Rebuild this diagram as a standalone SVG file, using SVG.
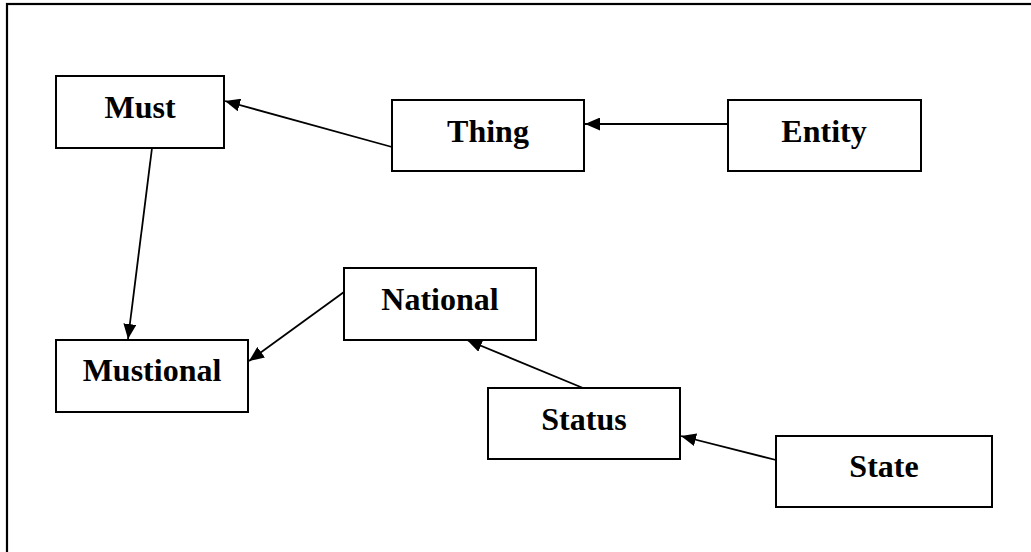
<svg xmlns="http://www.w3.org/2000/svg" width="1031" height="552" viewBox="0 0 1031 552">
<defs>
<style>
.box{fill:#fff;stroke:#000;stroke-width:2}
.lbl{font-family:"Liberation Serif","Times New Roman",serif;font-weight:bold;font-size:32px;fill:#000;text-anchor:middle}
.edge{stroke:#000;stroke-width:1.8;fill:none;marker-end:url(#ah)}
</style>
<marker id="ah" viewBox="0 0 15 13" refX="15" refY="6.5" markerWidth="15" markerHeight="13" markerUnits="userSpaceOnUse" orient="auto">
<path d="M0,0 L15,6.5 L0,13 z" fill="#000"/>
</marker>
</defs>
<rect x="0" y="0" width="1031" height="552" fill="#fff"/>
<rect x="7" y="4" width="1040" height="560" fill="none" stroke="#000" stroke-width="2.2"/>
<g id="connectors">
<line class="edge" x1="392" y1="147" x2="225" y2="101"/>
<line class="edge" x1="727" y1="124" x2="585" y2="124"/>
<line class="edge" x1="152" y1="148" x2="128" y2="339"/>
<line class="edge" x1="344" y1="292" x2="249" y2="361"/>
<line class="edge" x1="583" y1="388" x2="467" y2="340"/>
<line class="edge" x1="776" y1="460" x2="681" y2="436"/>
</g>
<g id="must"><rect class="box" x="56" y="76" width="168" height="72"/><text class="lbl" x="140" y="118">Must</text></g>
<g id="thing"><rect class="box" x="392" y="100" width="192" height="71"/><text class="lbl" x="488" y="142">Thing</text></g>
<g id="entity"><rect class="box" x="728" y="100" width="193" height="71"/><text class="lbl" x="824" y="142">Entity</text></g>
<g id="national"><rect class="box" x="344" y="268" width="192" height="72"/><text class="lbl" x="440" y="310">National</text></g>
<g id="mustional"><rect class="box" x="56" y="340" width="192" height="72"/><text class="lbl" x="152" y="381">Mustional</text></g>
<g id="status"><rect class="box" x="488" y="388" width="192" height="71"/><text class="lbl" x="584" y="430">Status</text></g>
<g id="state"><rect class="box" x="776" y="436" width="216" height="71"/><text class="lbl" x="884" y="477">State</text></g>
</svg>
